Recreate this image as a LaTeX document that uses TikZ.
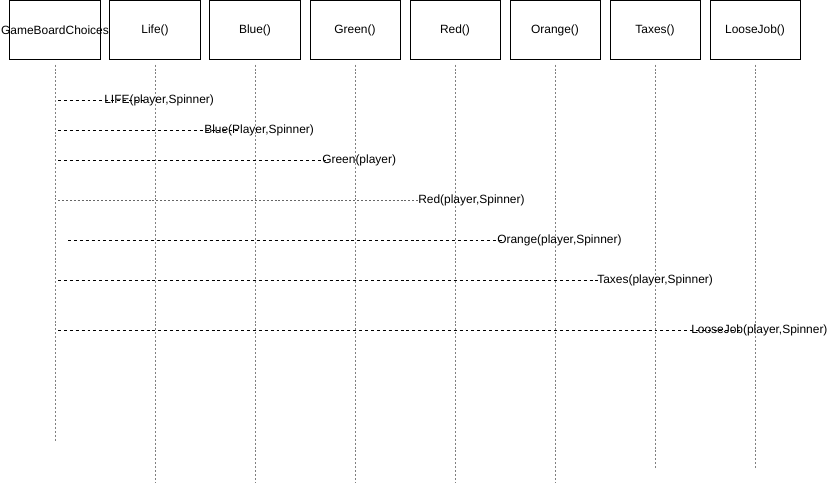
\documentclass[tikz,border=0pt]{standalone}
\usepackage{fontspec}
\setmainfont{Liberation Sans}
\usepackage{tikz}

\tikzset{
	obj/.style={draw=black,line width=0.7pt,fill=white,minimum width=2.25cm,minimum height=1.48cm,inner sep=0pt},
	lifeline/.style={gray,line width=0.6pt,dash pattern=on 1.4pt off 1.4pt,shorten <=3pt},
	msg/.style={black,line width=0.65pt,dash pattern=on 2.1pt off 2.1pt},
	msgdot/.style={gray!80!black,line width=0.6pt,dash pattern=on 1.4pt off 1.4pt},
	lbl/.style={anchor=west,inner sep=0pt,text=black}
}

\begin{document}
\begin{tikzpicture}[x=0.025cm,y=-0.025cm,font=\fontsize{8.5}{10}\selectfont]
		\useasboundingbox (0,0) rectangle (828,482);

		% >>> objects
		\node[obj] (gbc) at (55,30.3) {\makebox[0pt]{GameBoardChoices}};
		\node[obj] (life) at (155,30.3) {Life()};
		\node[obj] (blue) at (255,30.3) {Blue()};
		\node[obj] (green) at (355,30.3) {Green()};
		\node[obj] (red) at (455,30.3) {Red()};
		\node[obj] (orange) at (555,30.3) {Orange()};
		\node[obj] (taxes) at (655,30.3) {Taxes()};
		\node[obj] (loose) at (755,30.3) {LooseJob()};
		% <<< objects

		% >>> lifelines
		\coordinate (gbc-end) at (55,442);
		\coordinate (life-end) at (155,482);
		\coordinate (blue-end) at (255,482);
		\coordinate (green-end) at (355,482);
		\coordinate (red-end) at (455,482);
		\coordinate (orange-end) at (555,482);
		\coordinate (taxes-end) at (655,470);
		\coordinate (loose-end) at (755,470);
		\draw[lifeline] (gbc) -- (gbc-end);
		\draw[lifeline] (life) -- (life-end);
		\draw[lifeline] (blue) -- (blue-end);
		\draw[lifeline] (green) -- (green-end);
		\draw[lifeline] (red) -- (red-end);
		\draw[lifeline] (orange) -- (orange-end);
		\draw[lifeline] (taxes) -- (taxes-end);
		\draw[lifeline] (loose) -- (loose-end);
		% <<< lifelines

		% >>> messages
		\coordinate (lifecall) at (58,100);
		\coordinate (bluecall) at (58,130);
		\coordinate (greencall) at (58,160);
		\coordinate (redcall) at (58,200);
		\coordinate (orangecall) at (68,240);
		\coordinate (taxescall) at (58,280);
		\coordinate (loosecall) at (58,330);

		\node[lbl] (lifemsg) at (104,100) {LIFE(player,Spinner)};
		\node[lbl] (bluemsg) at (204,130) {Blue(Player,Spinner)};
		\node[lbl] (greenmsg) at (322,160) {Green(player)};
		\node[lbl] (redmsg) at (418,200) {Red(player,Spinner)};
		\node[lbl] (orangemsg) at (497,240) {Orange(player,Spinner)};
		\node[lbl] (taxesmsg) at (597,280) {Taxes(player,Spinner)};
		\node[lbl] (loosemsg) at (691,330) {LooseJob(player,Spinner)};

		\draw[msg] (lifecall) -- ([xshift=29]lifemsg.west);
		\draw[msg] (bluecall) -- ([xshift=24]bluemsg.west);
		\draw[msg] (greencall) -- ([xshift=3]greenmsg.west);
		\draw[msgdot] (redcall) -- (redmsg.west);
		\draw[msg] (orangecall) -- ([xshift=5]orangemsg.west);
		\draw[msg] (taxescall) -- ([xshift=3]taxesmsg.west);
		\draw[msg] (loosecall) -- ([xshift=35]loosemsg.west);
		% <<< messages

	\end{tikzpicture}
\end{document}
